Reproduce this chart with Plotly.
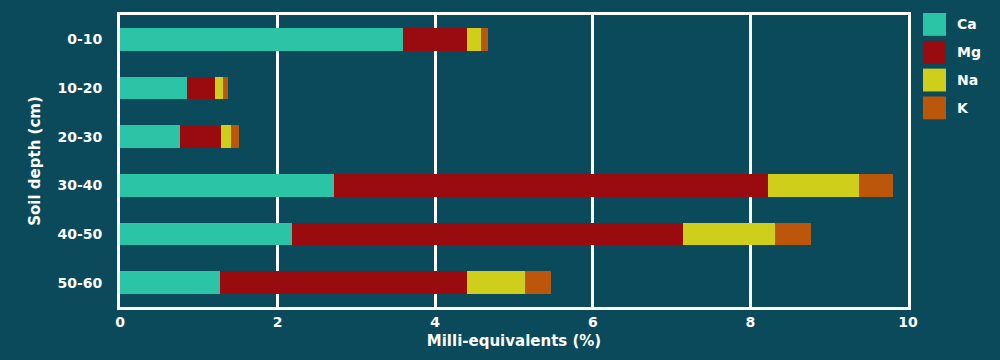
import plotly.graph_objects as go

depths = ["0-10", "10-20", "20-30", "30-40", "40-50", "50-60"]
series_names = ["Ca", "Mg", "Na", "K"]
ca = [3.59, 0.85, 0.76, 2.72, 2.18, 1.27]
mg = [0.81, 0.35, 0.52, 5.50, 4.96, 3.13]
na = [0.18, 0.11, 0.13, 1.16, 1.17, 0.74]
k = [0.09, 0.06, 0.10, 0.43, 0.46, 0.33]
x_ticks = [0, 2, 4, 6, 8, 10]

colors = ["#2cc4a6", "#9a0b10", "#cfcf1b", "#bb560b"]
bg = "#0b4a5a"
white = "#ffffff"
font_family = "'DejaVu Sans', sans-serif"

fig = go.Figure()
for name, vals, col in zip(series_names, [ca, mg, na, k], colors):
    fig.add_trace(go.Bar(
        y=depths, x=vals, name=name, orientation="h",
        marker=dict(color=col, line=dict(width=0)),
        showlegend=False,
    ))

# custom legend with large squares
sq_w = 23 / 788
sq_h = 23 / 294
x0 = (923 - 120) / 788
y_top = (307 - 11) / 294
step = 28 / 294
for i, (name, col) in enumerate(zip(series_names, colors)):
    yt = y_top - i * step
    fig.add_shape(type="rect", xref="paper", yref="paper",
                  x0=x0, x1=x0 + sq_w, y0=yt - sq_h, y1=yt,
                  fillcolor=col, line=dict(width=0))
    fig.add_annotation(xref="paper", yref="paper", x=(955 - 120) / 788,
                       y=yt - sq_h / 2, text=f"<b>{name}</b>", showarrow=False,
                       xanchor="left", yanchor="middle",
                       font=dict(family=font_family, size=14, color=white))

fig.update_layout(
    width=1000, height=360,
    paper_bgcolor=bg, plot_bgcolor=bg,
    barmode="stack", bargap=0.53,
    margin=dict(l=120, r=92, t=13, b=53),
    font=dict(family=font_family, size=14, color=white),
    xaxis=dict(
        range=[0, 10], tickvals=x_ticks, ticktext=[f"<b>{t}</b>" for t in x_ticks],
        showgrid=True, gridcolor=white, gridwidth=3,
        showline=True, linecolor=white, linewidth=3, mirror=True,
        zeroline=False, ticks="", ticklen=0,
        title=dict(text="<b>Milli-equivalents (%)</b>", standoff=7,
                   font=dict(size=15, color=white)),
        tickfont=dict(size=14, color=white),
    ),
    yaxis=dict(
        autorange="reversed",
        tickvals=depths, ticktext=[f"<b>{d}</b>" for d in depths],
        showgrid=False, showline=True, linecolor=white, linewidth=3, mirror=True,
        ticks="", ticklen=0, ticklabelstandoff=12,
        title=dict(text="<b>Soil depth (cm)</b>", standoff=14,
                   font=dict(size=15, color=white)),
        tickfont=dict(size=14, color=white),
    ),
)

fig.write_html("out.html", config={"displayModeBar": False},
               post_script="document.body.style.margin='0';")
